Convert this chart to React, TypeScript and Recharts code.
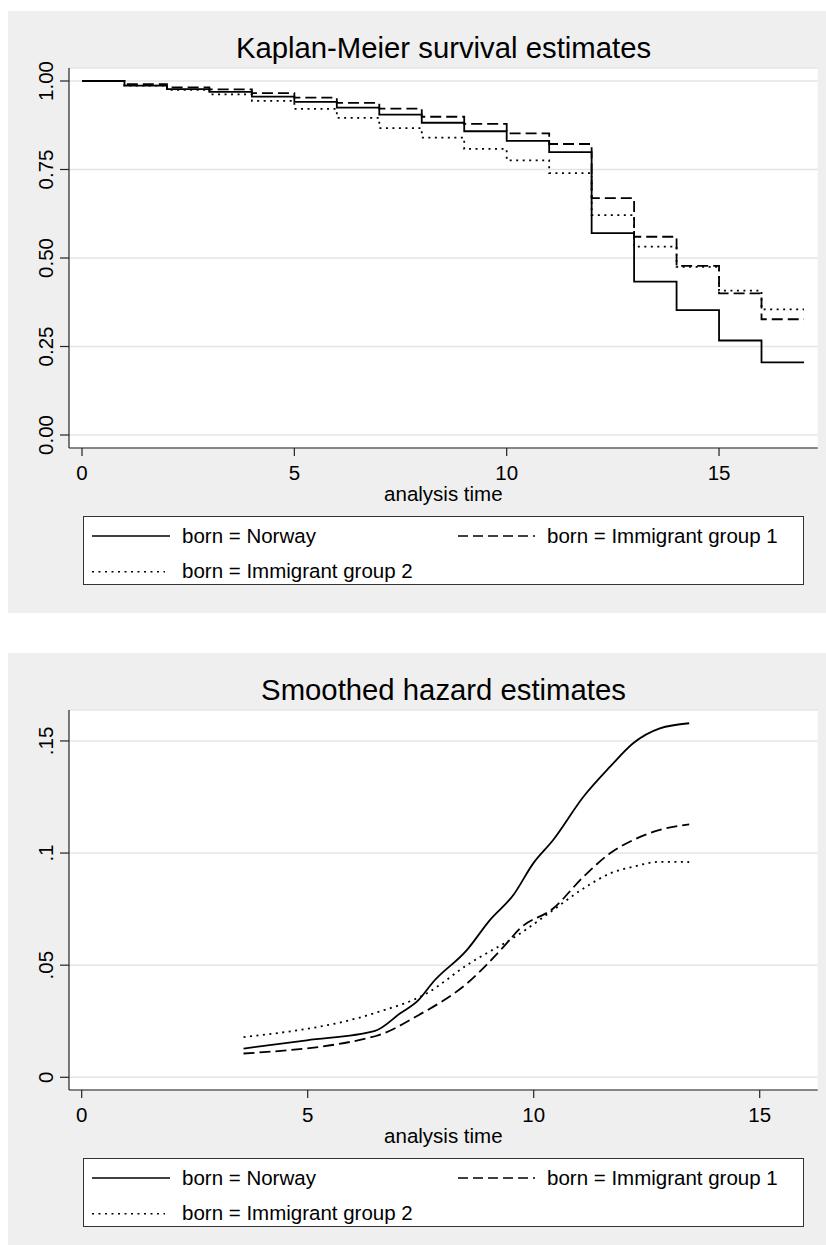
import React from 'react';
import { LineChart, Line, XAxis, YAxis, CartesianGrid, Legend } from 'recharts';

// ---------- data ----------
const kmTimes = [0, 1, 2, 3, 4, 5, 6, 7, 8, 9, 10, 11, 12, 13, 14, 15, 16, 17];
const kmNorway = [1.0, 0.987, 0.977, 0.969, 0.956, 0.941, 0.925, 0.905, 0.882, 0.858, 0.831, 0.799, 0.57, 0.433, 0.353, 0.267, 0.205, 0.205];
const kmImm1 = [1.0, 0.991, 0.982, 0.9765, 0.966, 0.953, 0.938, 0.922, 0.899, 0.879, 0.852, 0.822, 0.669, 0.56, 0.478, 0.4, 0.327, 0.327];
const kmImm2 = [1.0, 0.987, 0.975, 0.962, 0.944, 0.921, 0.896, 0.867, 0.84, 0.808, 0.776, 0.74, 0.621, 0.532, 0.475, 0.408, 0.355, 0.355];

const hazNorwayX = [3.58, 4.98, 6.49, 7.04, 7.45, 7.78, 8.52, 9.03, 9.55, 9.99, 10.43, 11.1, 11.69, 12.2, 12.79, 13.44];
const hazNorwayY = [0.0128, 0.0165, 0.0207, 0.0284, 0.0344, 0.0426, 0.0567, 0.0701, 0.0813, 0.0954, 0.1058, 0.1251, 0.1385, 0.149, 0.1556, 0.1579];
const hazImm1X = [3.58, 6.49, 7.45, 8.52, 9.4, 9.7, 10.43, 11.1, 11.69, 12.2, 12.79, 13.44];
const hazImm1Y = [0.0106, 0.0183, 0.0277, 0.0418, 0.0597, 0.0664, 0.0753, 0.0894, 0.0999, 0.1058, 0.1103, 0.1128];
const hazImm2X = [3.58, 6.49, 7.63, 8.52, 9.7, 10.43, 11.1, 11.69, 12.2, 12.79, 13.44];
const hazImm2Y = [0.0179, 0.0287, 0.0374, 0.05, 0.0641, 0.0746, 0.0842, 0.0909, 0.0939, 0.0961, 0.096];

const seriesLabels = ['born = Norway', 'born = Immigrant group 1', 'born = Immigrant group 2'];
const legendDash = ['', '10 5', '2 4.5'];
const plotDash = ['', '11 5', '2 4.5'];

const xTicks = [0, 5, 10, 15];
const kmYTicks = [0, 0.25, 0.5, 0.75, 1];
const kmYLabels = ['0.00', '0.25', '0.50', '0.75', '1.00'];
const hazYTicks = [0, 0.05, 0.1, 0.15];
const hazYLabels = ['0', '.05', '.1', '.15'];

const titles = ['Kaplan-Meier survival estimates', 'Smoothed hazard estimates'];
const xTitle = 'analysis time';

// ---------- derived tables ----------
const kmData = kmTimes.map((t, i) => ({ t, norway: kmNorway[i], imm1: kmImm1[i], imm2: kmImm2[i] }));
const toPts = (xs: number[], ys: number[]) => xs.map((x, i) => ({ x, y: ys[i] }));
const hazNorway = toPts(hazNorwayX, hazNorwayY);
const hazImm1 = toPts(hazImm1X, hazImm1Y);
const hazImm2 = toPts(hazImm2X, hazImm2Y);

const FONT = 'Liberation Sans, Arial, Helvetica, sans-serif';
const PANEL_W = 818;
const YAXIS_W = 60;
const XAXIS_H = 60;
const LW = 1.8;
const MARGIN = { top: 57, right: 8.3, bottom: 165 - XAXIS_H, left: 61 - YAXIS_W };

const XTick = (p: any) => (
  <text x={p.x} y={p.y + 24} textAnchor="middle" fontSize={20.5} fontFamily={FONT} fill="#000">
    {p.payload.value}
  </text>
);

const makeYTick = (ticks: number[], labels: string[]) => (p: any) => {
  const bx = p.x - 7;
  const idx = ticks.findIndex((t) => Math.abs(t - p.payload.value) < 1e-9);
  return (
    <text x={bx} y={p.y} transform={`rotate(-90 ${bx} ${p.y})`} textAnchor="middle" fontSize={20.5} fontFamily={FONT} fill="#000">
      {idx >= 0 ? labels[idx] : p.payload.value}
    </text>
  );
};

const XTitle = (p: any) => {
  const vb = p.viewBox || {};
  return (
    <text x={vb.x + vb.width / 2} y={vb.y + 52.7} textAnchor="middle" fontSize={20.5} fontFamily={FONT} fill="#000">
      {xTitle}
    </text>
  );
};

const LegendBox = () => (
  <svg width={721} height={69} style={{ display: 'block', overflow: 'visible' }}>
    <rect x={0.5} y={0.5} width={720} height={68} fill="#fff" stroke="#333" strokeWidth={1} />
    <line x1={9} x2={87} y1={20} y2={20} stroke="#000" strokeWidth={1.6} />
    <text x={99} y={27.3} fontSize={20.5} fontFamily={FONT} fill="#000">{seriesLabels[0]}</text>
    <line x1={375} x2={452} y1={20} y2={20} stroke="#000" strokeWidth={1.6} strokeDasharray={legendDash[1]} />
    <text x={464} y={27.3} fontSize={20.5} fontFamily={FONT} fill="#000">{seriesLabels[1]}</text>
    <line x1={9} x2={82} y1={55.7} y2={55.7} stroke="#000" strokeWidth={1.6} strokeDasharray={legendDash[2]} />
    <text x={99} y={61.7} fontSize={20.5} fontFamily={FONT} fill="#000">{seriesLabels[2]}</text>
  </svg>
);

const Title = ({ text }: { text: string }) => (
  <svg width={PANEL_W} height={60} style={{ position: 'absolute', left: 0, top: 0, pointerEvents: 'none' }}>
    <text x={435.5} y={47.3} textAnchor="middle" fontSize={29.3} fontFamily={FONT} fill="#000">{text}</text>
  </svg>
);

const legendProps = {
  layout: 'vertical' as const,
  align: 'center' as const,
  verticalAlign: 'middle' as const,
  wrapperStyle: { left: 75, top: 505, width: 721, height: 69 },
  content: () => <LegendBox />,
};

export default function App() {
  return (
    <div style={{ position: 'absolute', left: 0, top: 0, width: 826, height: 1245, background: '#fff', fontFamily: FONT }}>
      {/* Panel 1: Kaplan-Meier */}
      <div style={{ position: 'absolute', left: 8, top: 11, width: PANEL_W, height: 602, background: '#efefef' }}>
        <LineChart width={PANEL_W} height={602} data={kmData} margin={MARGIN}>
          <CartesianGrid vertical={false} stroke="#e4e4e4" strokeWidth={1.5} fill="#fff" />
          <XAxis
            dataKey="t"
            type="number"
            domain={[-0.306, 17.323]}
            allowDataOverflow
            ticks={xTicks}
            interval={0}
            height={XAXIS_H}
            tickSize={8}
            tickMargin={0}
            stroke="#222"
            strokeWidth={1.2}
            tick={XTick}
            label={XTitle}
          />
          <YAxis
            type="number"
            domain={[-0.0367, 1.0367]}
            allowDataOverflow
            ticks={kmYTicks}
            interval={0}
            width={YAXIS_W}
            tickSize={9}
            tickMargin={0}
            stroke="#222"
            strokeWidth={1.2}
            tick={makeYTick(kmYTicks, kmYLabels)}
          />
          <Legend {...legendProps} />
          <Line dataKey="imm2" name={seriesLabels[2]} type="stepAfter" stroke="#000" strokeWidth={LW} strokeDasharray={plotDash[2]} dot={false} isAnimationActive={false} />
          <Line dataKey="imm1" name={seriesLabels[1]} type="stepAfter" stroke="#000" strokeWidth={LW} strokeDasharray={plotDash[1]} dot={false} isAnimationActive={false} />
          <Line dataKey="norway" name={seriesLabels[0]} type="stepAfter" stroke="#000" strokeWidth={LW} dot={false} isAnimationActive={false} />
        </LineChart>
        <Title text={titles[0]} />
      </div>

      {/* Panel 2: Smoothed hazard */}
      <div style={{ position: 'absolute', left: 8, top: 653, width: PANEL_W, height: 592, background: '#efefef' }}>
        <LineChart width={PANEL_W} height={592} margin={{ ...MARGIN, bottom: 155 - XAXIS_H }}>
          <CartesianGrid vertical={false} stroke="#e4e4e4" strokeWidth={1.5} fill="#fff" />
          <XAxis
            dataKey="x"
            type="number"
            domain={[-0.281, 16.283]}
            allowDataOverflow
            ticks={xTicks}
            interval={0}
            height={XAXIS_H}
            tickSize={8}
            tickMargin={0}
            stroke="#222"
            strokeWidth={1.2}
            tick={XTick}
            label={XTitle}
          />
          <YAxis
            type="number"
            domain={[-0.00567, 0.1638]}
            allowDataOverflow
            ticks={hazYTicks}
            interval={0}
            width={YAXIS_W}
            tickSize={9}
            tickMargin={0}
            stroke="#222"
            strokeWidth={1.2}
            tick={makeYTick(hazYTicks, hazYLabels)}
          />
          <Legend {...legendProps} />
          <Line data={hazImm2} dataKey="y" name={seriesLabels[2]} type="monotone" stroke="#000" strokeWidth={LW} strokeDasharray={plotDash[2]} dot={false} isAnimationActive={false} />
          <Line data={hazImm1} dataKey="y" name={seriesLabels[1]} type="monotone" stroke="#000" strokeWidth={LW} strokeDasharray={plotDash[1]} dot={false} isAnimationActive={false} />
          <Line data={hazNorway} dataKey="y" name={seriesLabels[0]} type="monotone" stroke="#000" strokeWidth={LW} dot={false} isAnimationActive={false} />
        </LineChart>
        <Title text={titles[1]} />
      </div>
    </div>
  );
}
